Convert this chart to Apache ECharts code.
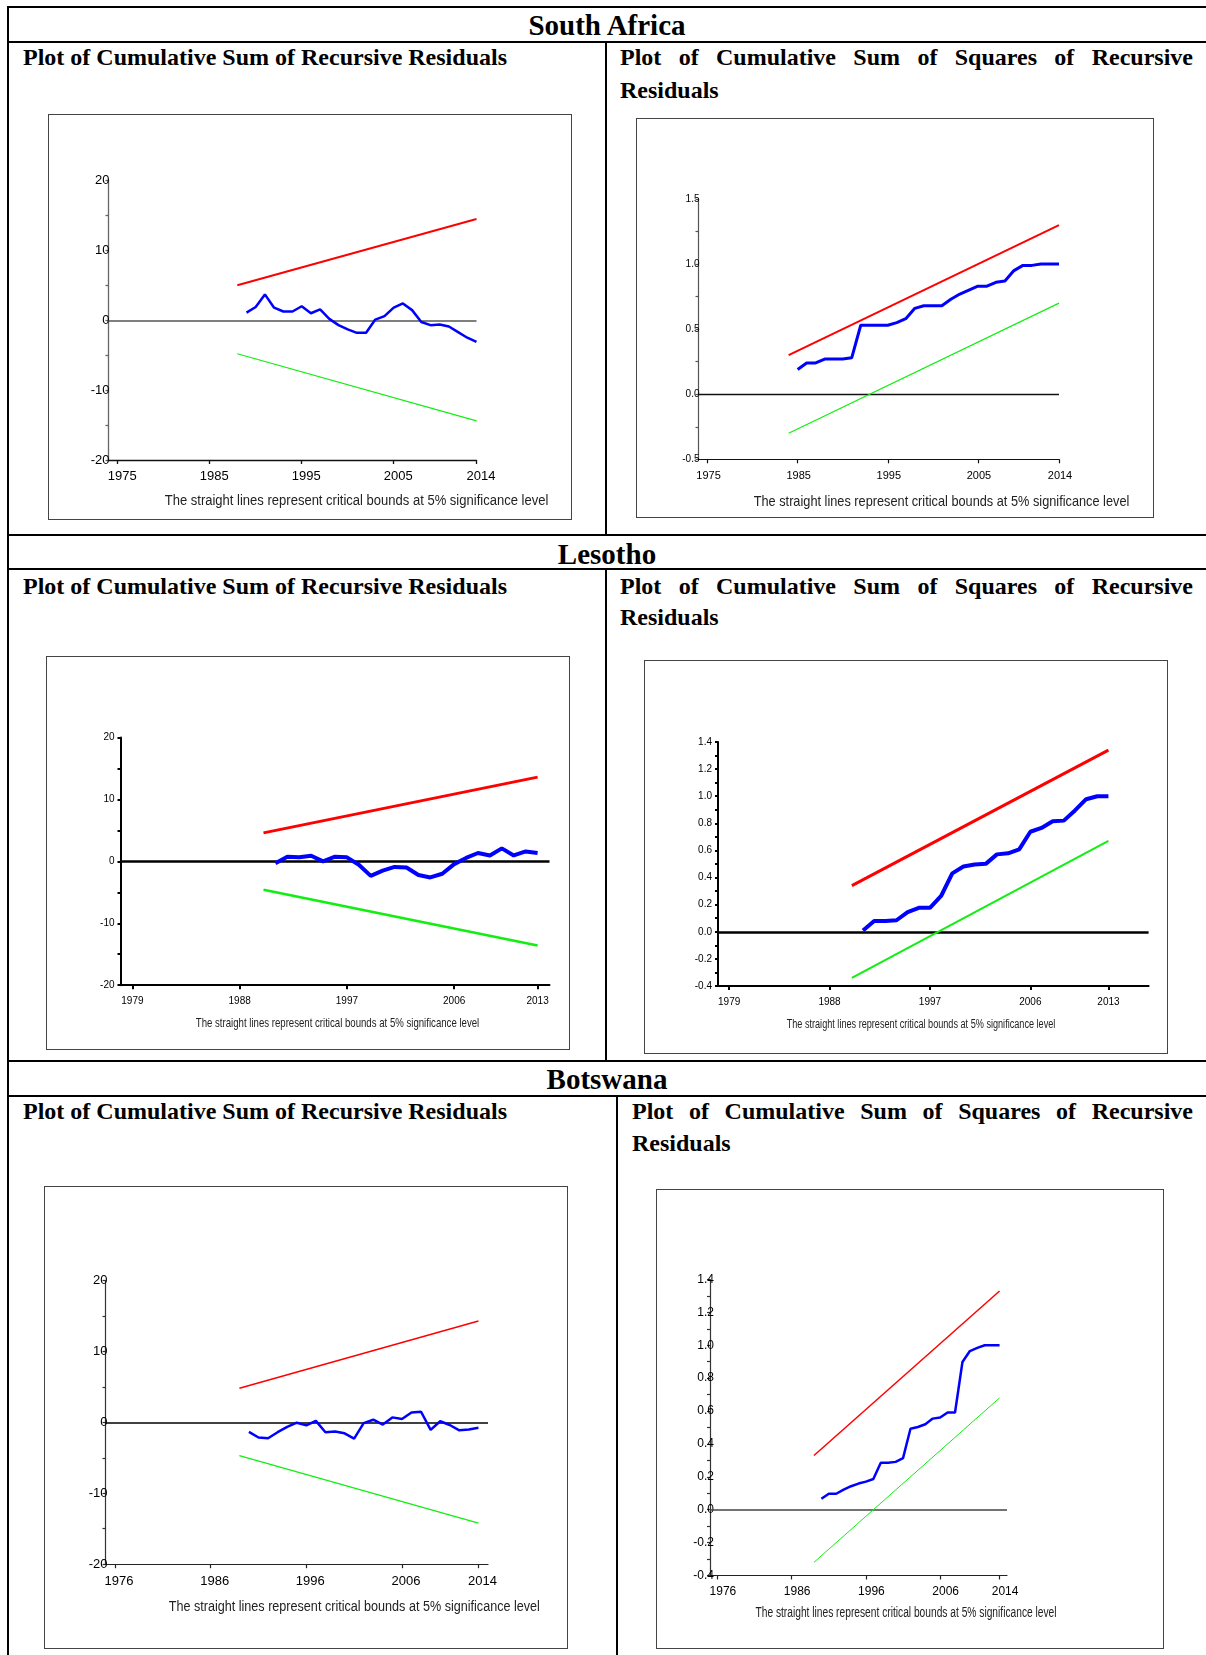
<!DOCTYPE html>
<html>
<head>
<meta charset="utf-8">
<title>CUSUM and CUSUMSQ</title>
<script src="https://cdn.jsdelivr.net/npm/echarts@6/dist/echarts.min.js"></script>
<style>
body{margin:0;background:#fff}
#page{position:relative;width:1206px;height:1655px;overflow:hidden;font-family:'Liberation Serif','Times New Roman',serif;color:#000}
.hl{position:absolute;height:2px;background:#000}
.vl{position:absolute;width:2px;background:#000}
.country{position:absolute;left:8px;width:1198px;text-align:center;font-weight:bold;font-size:29px;line-height:32px}
.sub{position:absolute;font-weight:bold;font-size:24px;line-height:30px;white-space:nowrap}
.just{text-align:justify;text-align-last:justify}
.box{position:absolute;border:1.5px solid #444;box-sizing:border-box}
</style>
</head>
<body>
<div id="page">
  <!-- table rules -->
  <div class="hl" style="left:7px;top:6px;width:1199px"></div>
  <div class="vl" style="left:7px;top:6px;height:1649px"></div>
  <div class="hl" style="left:7px;top:41px;width:1199px"></div>
  <div class="hl" style="left:7px;top:534px;width:1199px"></div>
  <div class="hl" style="left:7px;top:568px;width:1199px"></div>
  <div class="hl" style="left:7px;top:1060px;width:1199px"></div>
  <div class="hl" style="left:7px;top:1095px;width:1199px"></div>
  <div class="vl" style="left:605px;top:41px;height:494px"></div>
  <div class="vl" style="left:605px;top:568px;height:493px"></div>
  <div class="vl" style="left:616px;top:1095px;height:560px"></div>

  <div class="country" style="top:9px">South Africa</div>
  <div class="country" style="top:538px">Lesotho</div>
  <div class="country" style="top:1063px">Botswana</div>

  <div class="sub" style="left:23px;top:42px">Plot of Cumulative Sum of Recursive Residuals</div>
  <div class="sub just" style="left:620px;top:42px;width:573px">Plot of Cumulative Sum of Squares of Recursive</div>
  <div class="sub" style="left:620px;top:75px">Residuals</div>

  <div class="sub" style="left:23px;top:571px">Plot of Cumulative Sum of Recursive Residuals</div>
  <div class="sub just" style="left:620px;top:571px;width:573px">Plot of Cumulative Sum of Squares of Recursive</div>
  <div class="sub" style="left:620px;top:602px">Residuals</div>

  <div class="sub" style="left:23px;top:1096px">Plot of Cumulative Sum of Recursive Residuals</div>
  <div class="sub just" style="left:632px;top:1096px;width:561px">Plot of Cumulative Sum of Squares of Recursive</div>
  <div class="sub" style="left:632px;top:1128px">Residuals</div>

  <div id="saCusum" class="box" style="left:48px;top:114px;width:524px;height:406px"></div>
  <div id="saCusumSq" class="box" style="left:636px;top:118px;width:518px;height:400px"></div>
  <div id="leCusum" class="box" style="left:46px;top:656px;width:524px;height:394px"></div>
  <div id="leCusumSq" class="box" style="left:644px;top:660px;width:524px;height:394px"></div>
  <div id="boCusum" class="box" style="left:44px;top:1186px;width:524px;height:463px"></div>
  <div id="boCusumSq" class="box" style="left:656px;top:1189px;width:508px;height:460px"></div>
</div>

<script>
// data
var caption = 'The straight lines represent critical bounds at 5% significance level';

// South Africa
var saTicks = [1975, 1985, 1995, 2005, 2014];
var saCusumStart = 1989;
var saCusum = [1.1, 1.9, 3.7, 1.8, 1.25, 1.25, 2.0, 1.0, 1.55, 0.2, -0.7, -1.3, -1.8, -1.8, 0.1, 0.6, 1.8, 2.4, 1.45, -0.25, -0.7, -0.6, -0.9, -1.7, -2.5, -3.1];
var saCusumBoundYears = [1988, 2014];
var saCusumUpper = [5.0, 14.5];
var saCusumLower = [-4.8, -14.4];
var saCusumSqStart = 1985;
var saCusumSq = [0.19, 0.24, 0.24, 0.27, 0.27, 0.27, 0.28, 0.53, 0.53, 0.53, 0.53, 0.55, 0.58, 0.66, 0.68, 0.68, 0.68, 0.73, 0.77, 0.80, 0.83, 0.83, 0.86, 0.87, 0.95, 0.99, 0.99, 1.0, 1.0, 1.0];
var saCusumSqBoundYears = [1984, 2014];
var saCusumSqUpper = [0.30, 1.30];
var saCusumSqLower = [-0.30, 0.70];

// Lesotho
var leTicks = [1979, 1988, 1997, 2006, 2013];
var leCusumStart = 1991;
var leCusum = [-0.3, 0.75, 0.65, 0.9, 0.0, 0.75, 0.65, -0.55, -2.35, -1.5, -0.9, -1.0, -2.2, -2.6, -2.0, -0.45, 0.55, 1.35, 0.95, 2.1, 0.95, 1.6, 1.35];
var leCusumBoundYears = [1990, 2013];
var leCusumUpper = [4.6, 13.6];
var leCusumLower = [-4.6, -13.6];
var leCusumSqStart = 1991;
var leCusumSq = [0.01, 0.08, 0.08, 0.085, 0.145, 0.177, 0.177, 0.264, 0.431, 0.481, 0.496, 0.501, 0.571, 0.579, 0.608, 0.738, 0.766, 0.815, 0.82, 0.895, 0.978, 1.0, 1.0];
var leCusumSqBoundYears = [1990, 2013];
var leCusumSqUpper = [0.34, 1.34];
var leCusumSqLower = [-0.34, 0.67];

// Botswana
var boTicks = [1976, 1986, 1996, 2006, 2014];
var boCusumStart = 1990;
var boCusum = [-1.34, -2.14, -2.25, -1.39, -0.64, -0.05, -0.43, 0.21, -1.39, -1.28, -1.55, -2.3, -0.1, 0.37, -0.32, 0.7, 0.48, 1.39, 1.5, -1.07, 0.16, -0.37, -1.12, -1.02, -0.75];
var boCusumBoundYears = [1989, 2014];
var boCusumUpper = [4.8, 14.3];
var boCusumLower = [-4.7, -14.2];
var boCusumSqStart = 1990;
var boCusumSq = [0.067, 0.097, 0.097, 0.122, 0.143, 0.159, 0.171, 0.187, 0.286, 0.286, 0.291, 0.314, 0.492, 0.503, 0.52, 0.554, 0.561, 0.591, 0.591, 0.898, 0.965, 0.984, 1.0, 1.0, 1.0];
var boCusumSqBoundYears = [1989, 2014];
var boCusumSqUpper = [0.33, 1.33];
var boCusumSqLower = [-0.32, 0.68];

function pairs(years, vals) {
    return vals.map(function (v, i) { return [years[i], v]; });
}
function series(start, vals) {
    return vals.map(function (v, i) { return [start + i, v]; });
}

var sans = "'Liberation Sans', Arial, sans-serif";

// one panel = one chart instance inside its box
function panel(id, p) {
    var chart = echarts.init(document.getElementById(id));
    var option = {
        animation: false,
        grid: {left: p.grid[0], top: p.grid[1], width: p.grid[2], height: p.grid[3]},
        xAxis: {
            type: 'value',
            min: p.xMin,
            max: p.xMax,
            axisLine: {onZero: false, lineStyle: {color: p.xAxisColor, width: p.axisWidth}},
            axisTick: {show: true, customValues: p.ticks, length: 4, lineStyle: {color: p.xAxisColor, width: p.axisWidth}},
            axisLabel: {customValues: p.ticks, fontFamily: sans, fontSize: p.xFont, color: '#000',
                margin: p.xMargin, padding: [0, 0, 0, p.xShift],
                formatter: function (v) { return String(v); }},
            splitLine: {show: false}
        },
        yAxis: {
            type: 'value',
            min: p.yMin,
            max: p.yMax,
            interval: p.yStep,
            axisLine: {show: true, onZero: false, lineStyle: {color: p.yAxisColor, width: p.axisWidth}},
            axisTick: {show: true, length: 3, lineStyle: {color: p.yAxisColor, width: p.axisWidth}},
            minorTick: {show: true, splitNumber: 2, length: 3, lineStyle: {color: p.yAxisColor, width: p.axisWidth}},
            axisLabel: {fontFamily: sans, fontSize: p.yFont, color: '#000', margin: p.yMargin,
                formatter: function (v) { return p.decimals ? v.toFixed(p.decimals) : String(Math.round(v)); }},
            splitLine: {show: false}
        },
        graphic: [{
            type: 'text',
            x: p.cap[0],
            y: p.cap[1],
            scaleX: p.capScale,
            style: {text: caption, font: p.capFont + 'px ' + sans, fill: '#222',
                textAlign: 'center', textVerticalAlign: 'middle'}
        }],
        series: [
            {
                type: 'line', data: p.upper, symbol: 'none', silent: true,
                lineStyle: {color: '#ff0000', width: p.widths[1]}
            },
            {
                type: 'line', data: p.lower, symbol: 'none', silent: true,
                lineStyle: {color: '#11ee11', width: p.widths[2]}
            },
            {
                type: 'line', data: p.stat, symbol: 'none', silent: true, z: 3,
                lineStyle: {color: '#0000ff', width: p.widths[0]},
                markLine: {
                    symbol: 'none', silent: true, label: {show: false}, z: 1,
                    lineStyle: {color: p.zeroColor, width: p.zeroWidth, type: 'solid'},
                    data: [{yAxis: 0}]
                }
            }
        ]
    };
    chart.setOption(option);
}

panel('saCusum', {
    grid: [59.5, 65.5, 368, 279.5], xMin: 1974, xMax: 2014, ticks: saTicks,
    yMin: -20, yMax: 20, yStep: 10, decimals: 0,
    xAxisColor: '#111', yAxisColor: '#666', axisWidth: 1.3,
    xFont: 13, xMargin: 10, xShift: 9, yFont: 13, yMargin: -1,
    cap: [307.5, 386.5], capFont: 14, capScale: 0.93,
    stat: series(saCusumStart, saCusum),
    upper: pairs(saCusumBoundYears, saCusumUpper),
    lower: pairs(saCusumBoundYears, saCusumLower),
    widths: [2.5, 2, 1.2], zeroColor: '#555', zeroWidth: 1.5
});

panel('saCusumSq', {
    grid: [61.5, 80, 360.5, 260.3], xMin: 1974, xMax: 2014, ticks: saTicks,
    yMin: -0.5, yMax: 1.5, yStep: 0.5, decimals: 1,
    xAxisColor: '#111', yAxisColor: '#555', axisWidth: 1.2,
    xFont: 11, xMargin: 11, xShift: 2, yFont: 10, yMargin: -1,
    cap: [304.5, 382.5], capFont: 15, capScale: 0.85,
    stat: series(saCusumSqStart, saCusumSq),
    upper: pairs(saCusumSqBoundYears, saCusumSqUpper),
    lower: pairs(saCusumSqBoundYears, saCusumSqLower),
    widths: [3, 2, 1.2], zeroColor: '#111', zeroWidth: 1.3
});

panel('leCusum', {
    grid: [73.5, 80.5, 429, 247.7], xMin: 1978, xMax: 2014, ticks: leTicks,
    yMin: -20, yMax: 20, yStep: 10, decimals: 0,
    xAxisColor: '#000', yAxisColor: '#000', axisWidth: 2,
    xFont: 10, xMargin: 11, xShift: 0, yFont: 10, yMargin: 6,
    cap: [290.5, 366.5], capFont: 13, capScale: 0.74,
    stat: series(leCusumStart, leCusum),
    upper: pairs(leCusumBoundYears, leCusumUpper),
    lower: pairs(leCusumBoundYears, leCusumLower),
    widths: [4, 3, 2.5], zeroColor: '#000', zeroWidth: 2.5
});

panel('leCusumSq', {
    grid: [73, 81, 430.6, 244], xMin: 1978, xMax: 2016.6, ticks: leTicks,
    yMin: -0.4, yMax: 1.4, yStep: 0.2, decimals: 1,
    xAxisColor: '#000', yAxisColor: '#000', axisWidth: 2,
    xFont: 10, xMargin: 11, xShift: 0, yFont: 10, yMargin: 6,
    cap: [276, 363.5], capFont: 12, capScale: 0.76,
    stat: series(leCusumSqStart, leCusumSq),
    upper: pairs(leCusumSqBoundYears, leCusumSqUpper),
    lower: pairs(leCusumSqBoundYears, leCusumSqLower),
    widths: [4, 3, 2], zeroColor: '#000', zeroWidth: 2.5
});

panel('boCusum', {
    grid: [60.5, 93.5, 382.5, 283.7], xMin: 1975, xMax: 2015, ticks: boTicks,
    yMin: -20, yMax: 20, yStep: 10, decimals: 0,
    xAxisColor: '#222', yAxisColor: '#333', axisWidth: 1.2,
    xFont: 13, xMargin: 11, xShift: 8, yFont: 13, yMargin: -2,
    cap: [309.3, 420], capFont: 14, capScale: 0.9,
    stat: series(boCusumStart, boCusum),
    upper: pairs(boCusumBoundYears, boCusumUpper),
    lower: pairs(boCusumBoundYears, boCusumLower),
    widths: [2.5, 1.5, 1.2], zeroColor: '#000', zeroWidth: 1.5
});

panel('boCusumSq', {
    grid: [53, 89.5, 297, 296], xMin: 1975, xMax: 2015, ticks: boTicks,
    yMin: -0.4, yMax: 1.4, yStep: 0.2, decimals: 1,
    xAxisColor: '#222', yAxisColor: '#333', axisWidth: 1.2,
    xFont: 12, xMargin: 10, xShift: 11, yFont: 12, yMargin: -4,
    cap: [249, 423.5], capFont: 14, capScale: 0.73,
    stat: series(boCusumSqStart, boCusumSq),
    upper: pairs(boCusumSqBoundYears, boCusumSqUpper),
    lower: pairs(boCusumSqBoundYears, boCusumSqLower),
    widths: [2.5, 1.5, 1], zeroColor: '#444', zeroWidth: 1.5
});
</script>
</body>
</html>
